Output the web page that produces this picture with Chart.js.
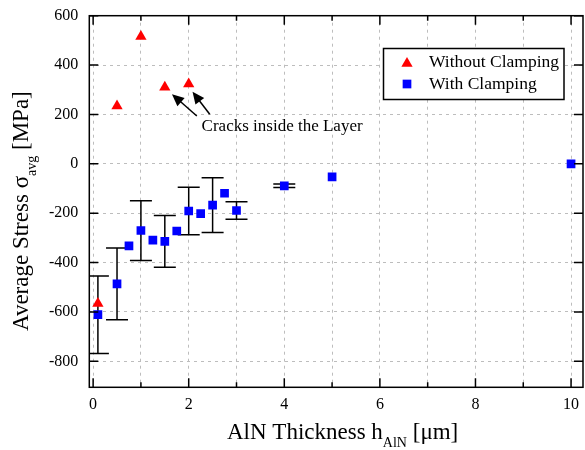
<!DOCTYPE html>
<html><head><meta charset="utf-8">
<script src="https://cdn.jsdelivr.net/npm/chart.js@4/dist/chart.umd.min.js"></script>
<style>html,body{margin:0;padding:0;background:#fff;overflow:hidden}#wrap{width:585px;height:450px;position:relative}canvas{display:block}</style>
</head><body><div id="wrap"><canvas id="c" width="585" height="450"></canvas></div>
<script>
// ---- data ----
const seriesNames = ['Without Clamping', 'With Clamping'];
const xWithout = [0.1, 0.5, 1, 1.5, 2];
const yWithout = [-566, 234, 516, 310, 323];
const xWith = [0.1, 0.5, 0.75, 1, 1.25, 1.5, 1.75, 2, 2.25, 2.5, 2.75, 3, 4, 5, 10];
const yWith = [-611, -486, -332, -270, -309, -314, -272, -191, -202, -167, -119, -189, -89, -53, 0];
const errWith = [157, 145, null, 121, null, 105, null, 96, null, 111, null, 35, 7, null, null];
const xAxisMin = -0.08, xAxisMax = 10.25, xStep = 1, xLabelEvery = 2;
const yAxisMin = -905, yAxisMax = 600, yStep = 200;
const annotationText = 'Cracks inside the Layer';
const annotationTextPos = [2.27, 150];
const arrows = [ { from: [2.17, 194], to: [1.65, 282] }, { from: [2.44, 201], to: [2.08, 292] } ];
const xTitleMain = 'AlN Thickness h', xTitleSub = 'AlN', xTitleEnd = ' [μm]';
const yTitleMain = 'Average Stress σ', yTitleSub = 'avg', yTitleEnd = ' [MPa]';

const SERIF = '"Liberation Serif", "DejaVu Serif", serif';

const errorBarPlugin = {
  id: 'errbars',
  beforeDatasetsDraw(chart) {
    const ctx = chart.ctx, sx = chart.scales.x, sy = chart.scales.y;
    const { left, right, top, bottom } = chart.chartArea;
    ctx.save();
    ctx.beginPath(); ctx.rect(left, top, right - left, bottom - top); ctx.clip();
    ctx.strokeStyle = '#000'; ctx.lineWidth = 1.5;
    xWith.forEach((x, i) => {
      const e = errWith[i]; if (e == null) return;
      const X = sx.getPixelForValue(x), y1 = sy.getPixelForValue(yWith[i] + e), y2 = sy.getPixelForValue(yWith[i] - e);
      ctx.beginPath();
      ctx.moveTo(X, y1); ctx.lineTo(X, y2);
      ctx.moveTo(X - 11, y1); ctx.lineTo(X + 11, y1);
      ctx.moveTo(X - 11, y2); ctx.lineTo(X + 11, y2);
      ctx.stroke();
    });
    ctx.restore();
  }
};

const framePlugin = {
  id: 'frame',
  afterDraw(chart) {
    const ctx = chart.ctx, sx = chart.scales.x, sy = chart.scales.y;
    const { left, right, top, bottom } = chart.chartArea;
    ctx.save();
    ctx.strokeStyle = '#000'; ctx.lineWidth = 1.5;
    ctx.strokeRect(left, top, right - left, bottom - top);
    ctx.beginPath();
    sx.ticks.forEach(t => {
      const X = sx.getPixelForValue(t.value);
      const len = (Math.round(t.value) % xLabelEvery === 0) ? 9 : 5;
      ctx.moveTo(X, bottom); ctx.lineTo(X, bottom - len);
      ctx.moveTo(X, top); ctx.lineTo(X, top + len);
    });
    sy.ticks.forEach(t => {
      const Y = sy.getPixelForValue(t.value);
      ctx.moveTo(left, Y); ctx.lineTo(left + 9, Y);
      ctx.moveTo(right, Y); ctx.lineTo(right - 9, Y);
    });
    ctx.stroke();

    // annotation arrows
    ctx.fillStyle = '#000'; ctx.lineWidth = 1.5;
    arrows.forEach(a => {
      const x1 = sx.getPixelForValue(a.from[0]), y1 = sy.getPixelForValue(a.from[1]);
      const x2 = sx.getPixelForValue(a.to[0]), y2 = sy.getPixelForValue(a.to[1]);
      const ang = Math.atan2(y2 - y1, x2 - x1), hl = 12, hw = 5.5;
      const bx = x2 - hl * Math.cos(ang), by = y2 - hl * Math.sin(ang);
      ctx.beginPath(); ctx.moveTo(x1, y1); ctx.lineTo(bx + 2 * Math.cos(ang), by + 2 * Math.sin(ang)); ctx.stroke();
      ctx.beginPath(); ctx.moveTo(x2, y2);
      ctx.lineTo(bx + hw * Math.sin(ang), by - hw * Math.cos(ang));
      ctx.lineTo(bx - hw * Math.sin(ang), by + hw * Math.cos(ang));
      ctx.closePath(); ctx.fill();
    });
    ctx.font = '17px ' + SERIF; ctx.textBaseline = 'middle'; ctx.textAlign = 'left';
    ctx.fillText(annotationText, sx.getPixelForValue(annotationTextPos[0]), sy.getPixelForValue(annotationTextPos[1]));

    // legend
    const lx = 383.5, ly = 48.5, lw = 180.5, lh = 51;
    ctx.fillStyle = '#fff'; ctx.fillRect(lx, ly, lw, lh);
    ctx.strokeStyle = '#000'; ctx.lineWidth = 1.5; ctx.strokeRect(lx, ly, lw, lh);
    ctx.fillStyle = '#ff0000';
    Chart.helpers.drawPoint(ctx, { pointStyle: 'triangle', radius: 6.5, rotation: 0, borderWidth: 0 }, 407, 63.5);
    ctx.fillStyle = '#0000ff';
    Chart.helpers.drawPoint(ctx, { pointStyle: 'rect', radius: 6.15, rotation: 0, borderWidth: 0 }, 407, 84);
    ctx.fillStyle = '#000'; ctx.font = '17.5px ' + SERIF; ctx.textBaseline = 'middle'; ctx.textAlign = 'left';
    ctx.fillText(seriesNames[0], 429, 62);
    ctx.fillText(seriesNames[1], 429, 84);

    // axis titles with subscripts
    const big = '23px ' + SERIF, small = '14px ' + SERIF;
    ctx.textBaseline = 'alphabetic';
    let x = 227, base = 439.3;
    ctx.font = big; ctx.fillText(xTitleMain, x, base); x += ctx.measureText(xTitleMain).width;
    ctx.font = small; ctx.fillText(xTitleSub, x, base + 8); x += ctx.measureText(xTitleSub).width;
    ctx.font = big; ctx.fillText(xTitleEnd, x, base);

    ctx.save();
    ctx.translate(28.3, 331); ctx.rotate(-Math.PI / 2);
    let t = 0;
    ctx.font = big; ctx.fillText(yTitleMain, t, 0); t += ctx.measureText(yTitleMain).width;
    ctx.font = small; ctx.fillText(yTitleSub, t, 8); t += ctx.measureText(yTitleSub).width;
    ctx.font = big; ctx.fillText(yTitleEnd, t, 0);
    ctx.restore();
    ctx.restore();
  }
};

new Chart(document.getElementById('c'), {
  type: 'scatter',
  data: {
    datasets: [
      { label: seriesNames[0], data: xWithout.map((x, i) => ({ x, y: yWithout[i] })),
        pointStyle: 'triangle', pointRadius: 6.5, pointHoverRadius: 6.5, backgroundColor: '#ff0000', borderWidth: 0 },
      { label: seriesNames[1], data: xWith.map((x, i) => ({ x, y: yWith[i] })),
        pointStyle: 'rect', pointRadius: 6.15, pointHoverRadius: 6.15, backgroundColor: '#0000ff', borderWidth: 0 }
    ]
  },
  options: {
    responsive: false, animation: false, devicePixelRatio: 1,
    layout: { autoPadding: false, padding: { left: 0, top: 15.7, right: 2, bottom: 0 } },
    plugins: { legend: { display: false }, tooltip: { enabled: false } },
    scales: {
      x: {
        type: 'linear', min: xAxisMin, max: xAxisMax,
        afterFit(s) { s.height = 62.7; s.paddingLeft = 0; s.paddingRight = 0; },
        grid: { color: '#bdbdbd', lineWidth: 1, drawTicks: false },
        border: { display: false, dash: [3, 4] },
        ticks: { stepSize: xStep, includeBounds: false, padding: 8, color: '#000', maxRotation: 0, autoSkip: false,
          font: { family: SERIF, size: 16 },
          callback: v => (Math.round(v) % xLabelEvery === 0 ? String(v) : '') }
      },
      y: {
        type: 'linear', min: yAxisMin, max: yAxisMax,
        afterFit(s) { s.width = 89.3; s.paddingTop = 0; s.paddingBottom = 0; },
        grid: { color: '#bdbdbd', lineWidth: 1, drawTicks: false },
        border: { display: false, dash: [3, 4] },
        ticks: { stepSize: yStep, includeBounds: false, padding: 11, color: '#000',
          font: { family: SERIF, size: 16 } }
      }
    }
  },
  plugins: [errorBarPlugin, framePlugin]
});
</script></body></html>
